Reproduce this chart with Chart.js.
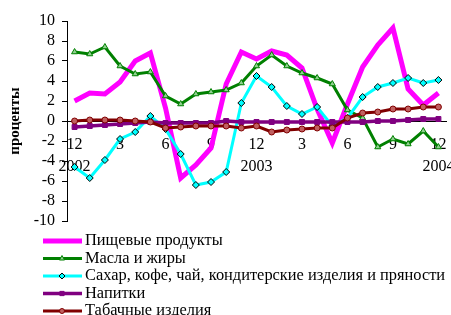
<!DOCTYPE html>
<html>
<head>
<meta charset="utf-8">
<script src="https://cdn.jsdelivr.net/npm/chart.js@4.4.1/dist/chart.umd.min.js"></script>
<style>
  body { margin: 0; background: #fff; }
  #wrap { width: 451px; height: 315px; position: relative; }
</style>
</head>
<body>
<div id="wrap"><canvas id="chartPrices"></canvas></div>
<script>
// months from 12.2001 to 12.2003
const months = ['12','1','2','3','4','5','6','7','8','9','10','11',
                '12','1','2','3','4','5','6','7','8','9','10','11','12'];
const years = ['2002','2003','2004'];
const seriesNames = ['Пищевые продукты', 'Масла и жиры',
  'Сахар, кофе, чай, кондитерские изделия и пряности', 'Напитки', 'Табачные изделия'];

const food    = [2.0, 2.8, 2.7, 3.9, 6.0, 6.8, 1.3, -5.7, -4.4, -2.7, 3.7, 6.9, 6.2,
                 7.0, 6.6, 5.3, 1.2, -2.2, 1.7, 5.4, 7.6, 9.3, 3.2, 1.6, 2.8];
const oils    = [6.9, 6.7, 7.4, 5.5, 4.7, 4.9, 2.5, 1.7, 2.7, 2.9, 3.1, 3.8, 5.5,
                 6.6, 5.5, 4.8, 4.3, 3.7, 1.1, 0.3, -2.6, -1.8, -2.3, -1.0, -2.6];
const sugar   = [-4.6, -5.7, -3.9, -1.8, -1.1, 0.5, -0.8, -3.3, -6.4, -6.1, -5.1, 1.8, 4.5,
                 3.4, 1.5, 0.7, 1.4, -0.5, 0.3, 2.4, 3.4, 3.8, 4.3, 3.8, 4.1];
const drinks  = [-0.6, -0.5, -0.4, -0.3, -0.2, -0.1, -0.2, -0.2, -0.2, -0.2, 0.0, -0.1, -0.1,
                 -0.1, -0.1, -0.1, -0.1, -0.1, -0.1, -0.1, 0.0, 0.0, 0.1, 0.2, 0.2];
const tobacco = [0.0, 0.1, 0.1, 0.1, 0.0, -0.1, -0.7, -0.6, -0.5, -0.5, -0.5, -0.7, -0.5,
                 -1.1, -0.9, -0.8, -0.7, -0.7, 0.3, 0.8, 0.9, 1.2, 1.2, 1.4, 1.4];

const serif = '"Liberation Serif", "Times New Roman", serif';

function makeSet(i, values, color, width, style, radius, fill, border) {
  return {
    label: seriesNames[i],
    data: values,
    borderColor: color,
    borderWidth: width,
    tension: 0,
    pointStyle: style,
    pointRadius: radius,
    pointBackgroundColor: fill,
    pointBorderColor: border,
    pointBorderWidth: 1,
    order: 5 - i
  };
}

// legend drawn under the plot, one series per row
const legendBelow = {
  id: 'legendBelow',
  afterDraw(chart) {
    const ctx = chart.ctx;
    ctx.save();
    chart.data.datasets.forEach((ds, i) => {
      const y = 241 + i * 17.5;
      ctx.strokeStyle = ds.borderColor;
      ctx.lineWidth = ds.borderWidth;
      ctx.beginPath();
      ctx.moveTo(43, y);
      ctx.lineTo(82, y);
      ctx.stroke();
      if (ds.pointRadius > 0) {
        ctx.fillStyle = ds.pointBackgroundColor;
        ctx.strokeStyle = ds.pointBorderColor;
        ctx.lineWidth = ds.pointBorderWidth;
        Chart.helpers.drawPoint(ctx, {pointStyle: ds.pointStyle, radius: ds.pointRadius - 0.5,
          borderWidth: ds.pointBorderWidth, rotation: 0}, 62, y);
      }
      ctx.fillStyle = '#000';
      ctx.font = '16.4px ' + serif;
      ctx.textBaseline = 'middle';
      ctx.textAlign = 'left';
      ctx.fillText(ds.label, 85, y);
    });
    ctx.restore();
  }
};

const ctx = document.getElementById('chartPrices').getContext('2d');

new Chart(ctx, {
  type: 'line',
  data: {
    labels: months,
    datasets: [
      makeSet(0, food, '#ff00ff', 5, 'circle', 0, '#ff00ff', '#ff00ff'),
      makeSet(1, oils, '#008000', 3, 'triangle', 3.5, '#90d090', '#008000'),
      makeSet(2, sugar, '#00ffff', 3, 'rectRot', 3.5, '#00ffff', '#000000'),
      makeSet(3, drinks, '#800080', 3.5, 'rect', 3.5, '#800080', '#800080'),
      makeSet(4, tobacco, '#800000', 3, 'circle', 3, '#c06060', '#800000')
    ]
  },
  options: {
    responsive: true,
    maintainAspectRatio: false,
    animation: false,
    layout: { padding: { top: 21, right: 5, bottom: 94, left: 0 } },
    plugins: {
      legend: { display: false },
      tooltip: { enabled: false }
    },
    scales: {
      x: {
        type: 'category',
        offset: true,
        position: { y: 0 },
        grid: { display: false, drawTicks: false },
        border: { display: true, color: '#000', width: 1 },
        ticks: {
          autoSkip: false,
          maxRotation: 0,
          minRotation: 0,
          padding: 13,
          color: '#000',
          font: { family: serif, size: 16, lineHeight: 1.375 },
          callback: function(value, index) {
            if (index % 3 !== 0) return '';
            if (index % 12 === 0) return [months[index], years[index / 12]];
            return months[index];
          }
        },
        afterFit: function(scale) {
          scale.paddingLeft = 0;
          scale.paddingRight = 0;
        }
      },
      y: {
        min: -10,
        max: 10,
        grid: { display: true, drawOnChartArea: false, drawTicks: true, tickLength: 5, color: '#000' },
        border: { display: true, color: '#000', width: 1 },
        ticks: {
          stepSize: 2,
          autoSkip: false,
          padding: 7,
          color: '#000',
          font: { family: serif, size: 16 }
        },
        title: {
          display: true,
          text: 'проценты',
          color: '#000',
          padding: { top: 6, bottom: 0 },
          font: { family: serif, size: 15, weight: 'bold', lineHeight: 1.2 }
        },
        afterFit: function(scale) {
          scale.width = 67;
          scale.paddingTop = 0;
          scale.paddingBottom = 0;
        }
      }
    }
  },
  plugins: [legendBelow]
});
</script>
</body>
</html>
